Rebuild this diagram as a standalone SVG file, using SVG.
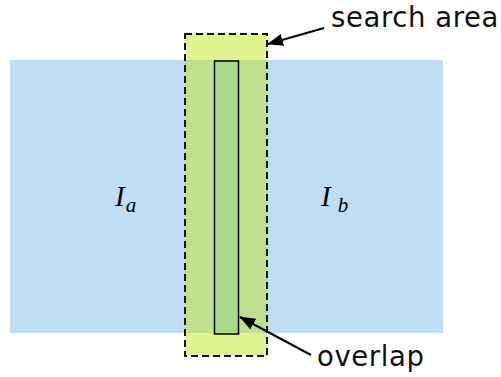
<svg xmlns="http://www.w3.org/2000/svg" width="501" height="377" viewBox="0 0 501 377">
<style>
.lbl{font-family:"DejaVu Sans",Verdana,sans-serif;font-size:27.5px;letter-spacing:0.6px;fill:#111}
.math{font-family:"Liberation Serif","Times New Roman",serif;font-style:italic;fill:#000}
.conn{stroke:#000;stroke-width:2;fill:none}
</style>
<defs>
<marker id="ah" viewBox="0 0 16 12" refX="15" refY="6" markerWidth="16" markerHeight="12" markerUnits="userSpaceOnUse" orient="auto">
<path d="M0,0 L16,6 L0,12 Z" fill="#000"/>
</marker>
</defs>
<rect width="501" height="377" fill="#fff"/>
<g id="image-a-b">
<rect x="10" y="60" width="433" height="273" fill="#BFDEF3"/>
</g>
<g id="search-area">
<rect x="185" y="34" width="82" height="322" fill="#DFF38F"/>
<rect x="185" y="60" width="82" height="273" fill="#BFE08C"/>
<rect x="185" y="34" width="82" height="322" fill="none" stroke="#111" stroke-width="2" stroke-dasharray="7,4"/>
</g>
<g id="overlap">
<rect x="214.5" y="61" width="24" height="273" fill="#A9D98A" stroke="#000" stroke-width="1.5"/>
</g>
<g id="label-Ia">
<text class="math" x="115" y="206" font-size="29">I<tspan font-size="21" dx="1" dy="6">a</tspan></text>
</g>
<g id="label-Ib">
<text class="math" x="321" y="206" font-size="29">I<tspan font-size="21" dx="7" dy="6">b</tspan></text>
</g>
<g id="label-search">
<text class="lbl" x="331" y="26.5">search area</text>
</g>
<g id="label-overlap">
<text class="lbl" x="317" y="366">overlap</text>
</g>
<g id="connectors">
<line class="conn" x1="324" y1="28" x2="268" y2="44" marker-end="url(#ah)"/>
<line class="conn" x1="311" y1="355" x2="240" y2="317" marker-end="url(#ah)"/>
</g>
</svg>
